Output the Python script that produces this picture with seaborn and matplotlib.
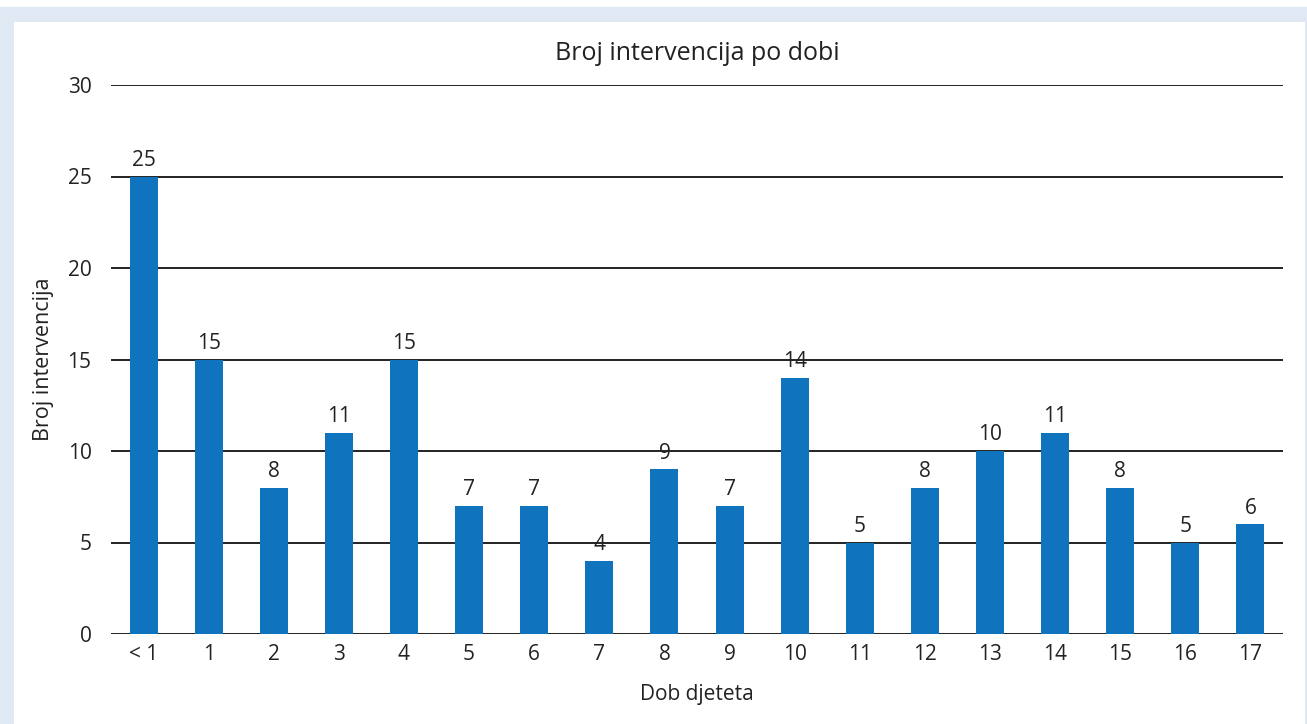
import matplotlib
matplotlib.use("Agg")
import matplotlib.pyplot as plt
import seaborn as sns
import pandas as pd
from matplotlib.patches import Rectangle

# Data
ages = ["< 1", "1", "2", "3", "4", "5", "6", "7", "8", "9",
        "10", "11", "12", "13", "14", "15", "16", "17"]
counts = [25, 15, 8, 11, 15, 7, 7, 4, 9, 7, 14, 5, 8, 10, 11, 8, 5, 6]

df = pd.DataFrame({"age": ages, "count": counts})

sns.set_theme(style="white")
plt.rcParams["font.family"] = ["Open Sans", "DejaVu Sans"]

W, H = 1307, 724
fig = plt.figure(figsize=(W / 100, H / 100), dpi=100)

# light blue frame around white panel
fig.patches.append(Rectangle((0, 0), 1, 1 - 7 / H, transform=fig.transFigure,
                             facecolor="#E0E8F4", edgecolor="none", zorder=-2))
fig.patches.append(Rectangle((14 / W, 0), (1305 - 14) / W, 1 - 22 / H,
                             transform=fig.transFigure, facecolor="white",
                             edgecolor="none", zorder=-1))

ax = fig.add_axes([111 / W, 1 - 634 / H, (1283 - 111) / W, (634 - 85) / H])
ax.set_facecolor("none")

sns.barplot(data=df, x="age", y="count", color="#0F73BD", width=0.43,
            saturation=1, linewidth=0, ax=ax, zorder=3)

ax.set_ylim(0, 30)
ax.set_yticks(range(0, 31, 5))
ax.grid(axis="y", color="#222222", linewidth=1.4, zorder=0)
ax.set_axisbelow(True)
for s in ax.spines.values():
    s.set_visible(False)

for c in ax.containers:
    ax.bar_label(c, padding=4, fontsize=15, color="#222222")

ax.tick_params(axis="both", length=0, labelsize=15, colors="#222222")
ax.tick_params(axis="y", pad=14)
ax.tick_params(axis="x", pad=7)

ax.set_xlabel("Dob djeteta", fontsize=15, color="#222222", labelpad=14)
ax.set_ylabel("Broj intervencija", fontsize=15.5, color="#222222", labelpad=10)
ax.set_title("Broj intervencija po dobi", fontsize=18, color="#222222", pad=18)

fig.savefig("out.png", dpi=100)
